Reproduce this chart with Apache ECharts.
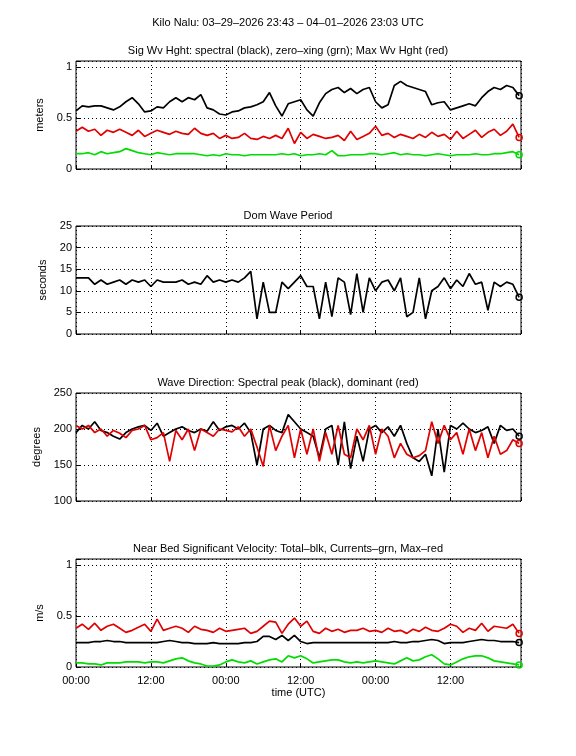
<!DOCTYPE html>
<html><head><meta charset="utf-8">
<script src="https://cdn.jsdelivr.net/npm/echarts@6/dist/echarts.min.js"></script>
<style>html,body{margin:0;padding:0;background:#fff}#c{width:576px;height:756px}</style>
</head><body><div id="c"></div>
<script>
const hours = Array.from({length:72},(_,i)=>i);
const xTickLabels = ["00:00","12:00"];
const hsSpec = [.57,.62,.61,.62,.62,.6,.58,.61,.66,.7,.64,.56,.57,.61,.6,.66,.7,.66,.7,.68,.73,.6,.58,.54,.53,.56,.57,.6,.61,.63,.66,.75,.62,.52,.64,.66,.68,.58,.52,.65,.74,.78,.8,.75,.79,.74,.78,.8,.66,.6,.63,.82,.86,.82,.8,.78,.76,.63,.65,.66,.58,.6,.62,.64,.62,.7,.76,.8,.78,.82,.8,.72];
const hsMax = [.37,.41,.37,.39,.33,.38,.36,.39,.36,.33,.38,.32,.35,.38,.36,.34,.37,.35,.34,.4,.35,.33,.35,.3,.33,.3,.31,.35,.3,.29,.32,.3,.33,.3,.4,.25,.36,.3,.34,.32,.3,.31,.33,.28,.37,.29,.32,.35,.42,.33,.35,.31,.34,.32,.3,.34,.31,.36,.32,.34,.29,.37,.3,.34,.38,.31,.36,.39,.33,.37,.44,.31];
const hsZero = [.15,.15,.16,.14,.17,.15,.16,.17,.2,.18,.16,.15,.14,.16,.15,.14,.15,.15,.15,.15,.14,.13,.14,.13,.15,.14,.14,.13,.14,.14,.14,.14,.14,.15,.14,.15,.13,.14,.14,.15,.14,.18,.13,.13,.14,.14,.14,.15,.15,.14,.15,.16,.14,.15,.14,.14,.13,.14,.15,.14,.13,.14,.14,.14,.15,.14,.14,.15,.15,.16,.17,.14];
const period = [13,13,13,11.5,12.5,11.5,12,12.5,11.5,12.5,12,12.5,11,12.5,12,12,12,12.5,11.5,12,11.5,13.5,12,12.5,12,12.5,12,13,14.5,3.5,12,5,5,12,10.5,12,13.5,11,11,3.5,12,4,13,12,4.5,14,5,13,10,12,12.5,10,13,4,5,13,3.5,10,11,13,10.5,12.5,11,14,11.5,12,5.5,12,11,12,11.5,8.5];
const dirPeak = [195,205,200,210,198,195,190,186,195,200,203,205,198,208,190,195,200,203,198,195,200,197,210,198,203,205,200,208,195,150,200,205,198,195,220,210,200,195,190,160,200,205,150,210,145,190,155,200,205,195,203,190,205,180,160,155,165,135,200,140,205,200,208,200,195,198,203,180,205,198,200,190];
const dirDom = [205,200,205,195,200,190,198,194,188,198,200,205,185,188,195,155,198,185,200,170,200,195,190,200,198,196,203,190,200,175,148,205,170,190,205,160,200,165,200,155,195,165,205,165,160,200,185,205,165,200,190,160,180,165,160,163,170,210,180,205,185,195,165,200,170,195,160,190,165,170,185,180];
const velMax = [.38,.42,.37,.43,.36,.4,.42,.38,.34,.36,.39,.42,.35,.47,.36,.38,.4,.38,.34,.4,.37,.36,.34,.38,.35,.36,.37,.38,.33,.35,.4,.45,.44,.33,.42,.48,.4,.45,.35,.33,.38,.35,.37,.34,.36,.36,.38,.35,.36,.34,.38,.35,.36,.33,.37,.35,.39,.36,.35,.38,.42,.4,.34,.38,.36,.43,.35,.4,.39,.38,.42,.33];
const velTot = [.24,.24,.24,.25,.25,.26,.25,.25,.24,.24,.24,.24,.24,.24,.25,.26,.25,.24,.24,.23,.23,.23,.24,.23,.23,.23,.23,.24,.24,.25,.3,.3,.27,.31,.26,.31,.25,.23,.24,.24,.24,.24,.24,.24,.24,.24,.24,.24,.24,.24,.24,.25,.24,.24,.25,.25,.26,.27,.26,.23,.24,.24,.24,.25,.26,.27,.26,.26,.25,.25,.25,.24];
const velCur = [.04,.04,.03,.03,.02,.04,.04,.04,.05,.05,.05,.04,.05,.05,.04,.06,.08,.09,.06,.04,.03,.01,.01,.02,.05,.07,.05,.04,.06,.03,.05,.07,.08,.05,.11,.09,.11,.08,.04,.05,.06,.07,.07,.05,.04,.05,.04,.05,.06,.05,.04,.03,.06,.09,.06,.07,.1,.12,.08,.03,.02,.05,.08,.1,.11,.11,.09,.06,.05,.04,.03,.02];

const font = 'Liberation Sans';
const tops = [61,226,393,559], H = 108;
const panels = [
 {title:'Sig Wv Hght: spectral (black), zero\u2013xing (grn); Max Wv Hght (red)', yname:'meters', min:0, max:1.06, interval:0.5,
  s:[[hsSpec,'#000'],[hsMax,'#e00000'],[hsZero,'#00dd00']]},
 {title:'Dom Wave Period', yname:'seconds', min:0, max:25, interval:5, s:[[period,'#000']]},
 {title:'Wave Direction: Spectral peak (black), dominant (red)', yname:'degrees', min:100, max:250, interval:50,
  s:[[dirPeak,'#000'],[dirDom,'#e00000']]},
 {title:'Near Bed Significant Velocity: Total\u2013blk, Currents\u2013grn, Max\u2013red', yname:'m/s', min:0, max:1.06, interval:0.5,
  s:[[velMax,'#e00000'],[velTot,'#000'],[velCur,'#00dd00']]}
];
const grid=[],xAxis=[],yAxis=[],series=[],title=[{text:'Kilo Nalu: 03\u201329\u20132026 23:43 \u2013 04\u201301\u20132026 23:03 UTC',left:'center',top:12,textStyle:{fontFamily:font,fontSize:11,fontWeight:'normal',color:'#000'}}];
const dotted={show:true,lineStyle:{color:'#000',type:[1,3],width:1}};
panels.forEach((p,k)=>{
  grid.push({left:76,right:55,top:tops[k],height:H,show:true,borderColor:'#000',borderWidth:1});
  title.push({text:p.title,left:'center',top:tops[k]-21,textStyle:{fontFamily:font,fontSize:11,fontWeight:'normal',color:'#000'}});
  xAxis.push({type:'value',gridIndex:k,min:0,max:71.3,interval:12,
    axisLine:{show:false},axisTick:{show:true,inside:true,length:4,lineStyle:{color:'#000'}},
    splitLine:dotted,
    axisLabel:{show:k===3,fontFamily:font,fontSize:11,color:'#000',showMaxLabel:false,formatter:v=>xTickLabels[(Math.round(v/12))%2]},
    name:k===3?'time (UTC)':'',nameLocation:'middle',nameGap:20,nameTextStyle:{fontFamily:font,fontSize:11,color:'#000'}});
  yAxis.push({type:'value',gridIndex:k,min:p.min,max:p.max,interval:p.interval,
    axisLine:{show:false},axisTick:{show:true,inside:true,length:4,lineStyle:{color:'#000'}},
    splitLine:dotted,
    axisLabel:{fontFamily:font,fontSize:11,color:'#000',margin:4,formatter:v=>(v>p.max-0.01&&p.max%p.interval!==0)?'':String(v)},
    name:p.yname,nameLocation:'middle',nameGap:22,nameTextStyle:{fontFamily:font,fontSize:11,color:'#000'}});
  p.s.forEach(([arr,col])=>{
    series.push({type:'line',xAxisIndex:k,yAxisIndex:k,data:arr.map((v,i)=>[hours[i],v]),
      showSymbol:false,lineStyle:{color:col,width:1.7},itemStyle:{color:col},animation:false,silent:true,
      markPoint:{symbol:'circle',symbolSize:6,itemStyle:{color:'transparent',borderColor:col,borderWidth:1.5},label:{show:false},
        data:[{coord:[hours[arr.length-1],arr[arr.length-1]]}]}});
  });
});
echarts.init(document.getElementById('c')).setOption({animation:false,title,grid,xAxis,yAxis,series});
</script></body></html>
